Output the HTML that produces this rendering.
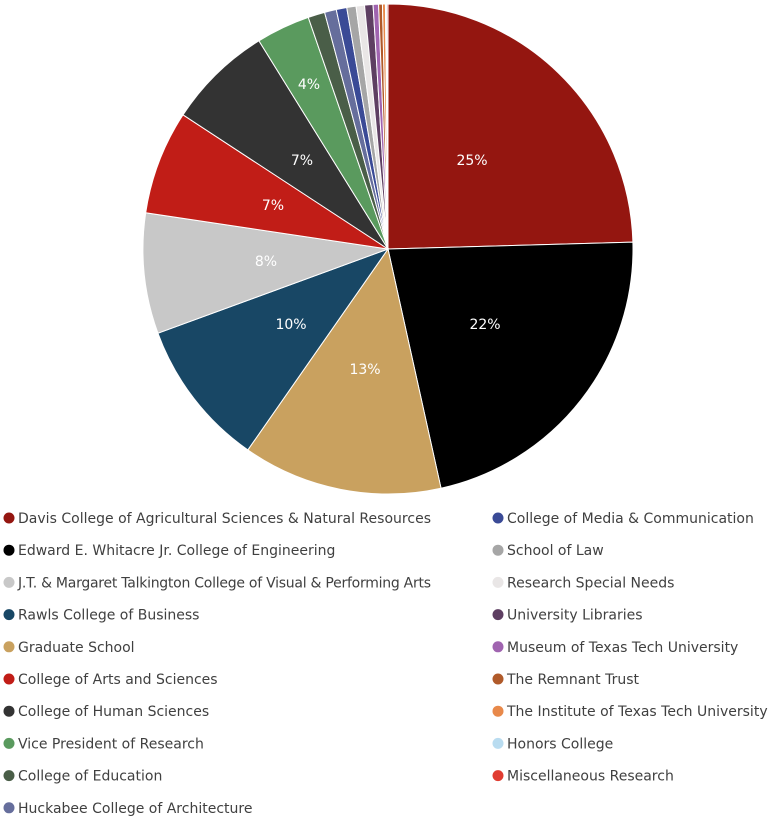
<!DOCTYPE html>
<html><head><meta charset="utf-8"><style>
body{margin:0;background:#fff;width:777px;height:823px;overflow:hidden}
svg text{font-family:"DejaVu Sans","Liberation Sans",sans-serif}
</style></head><body>
<svg id="s" width="777" height="823" xmlns="http://www.w3.org/2000/svg">
<g id="pie"></g>
<g fill="#fff" font-size="14" text-anchor="middle">
<text x="472" y="165">25%</text>
<text x="485" y="329">22%</text>
<text x="365" y="374">13%</text>
<text x="291" y="329">10%</text>
<text x="266" y="266">8%</text>
<text x="273" y="210">7%</text>
<text x="302" y="165">7%</text>
<text x="309" y="89">4%</text>
</g>
<g id="leg" font-size="14" fill="#404040"></g>
</svg>
<script>
var cx=388,cy=249,r=245;
var sl=[[0,88.4,"#941610"],[88.4,167.5,"#000000"],[167.5,214.9,"#c9a15f"],[214.9,249.9,"#184765"],[249.9,278.5,"#c8c8c8"],[278.5,303.2,"#c11d17"],[303.2,328.2,"#333333"],[328.2,341,"#5a9a5e"]];
var small=[[4,"#4a5e48"],[2.8,"#666e9c"],[2.5,"#3a4a96"],[2.2,"#a6a6a6"],[2,"#e9e6e6"],[2,"#5e3f62"],[1.3,"#a064b0"],[0.9,"#b05a2a"],[0.7,"#e8894a"],[0.3,"#b9dcf0"],[0.3,"#e03c31"]];
var a=341;small.forEach(function(s){sl.push([a,a+s[0],s[1]]);a+=s[0];});
function pt(d){var t=d*Math.PI/180;return (cx+r*Math.sin(t)).toFixed(2)+","+(cy-r*Math.cos(t)).toFixed(2);}
var h="";sl.forEach(function(s){h+='<path d="M'+cx+','+cy+' L'+pt(s[0])+' A'+r+','+r+' 0 '+((s[1]-s[0])>180?1:0)+' 1 '+pt(s[1])+' Z" fill="'+s[2]+'" stroke="#fff" stroke-width="1"/>';});
document.getElementById("pie").innerHTML=h;
var L=[["Davis College of Agricultural Sciences & Natural Resources","#941610"],["Edward E. Whitacre Jr. College of Engineering","#000000"],["J.T. & Margaret Talkington College of Visual & Performing Arts","#c8c8c8"],["Rawls College of Business","#184765"],["Graduate School","#c9a15f"],["College of Arts and Sciences","#c11d17"],["College of Human Sciences","#333333"],["Vice President of Research","#5a9a5e"],["College of Education","#4a5e48"],["Huckabee College of Architecture","#666e9c"]];
var R=[["College of Media & Communication","#3a4a96"],["School of Law","#a6a6a6"],["Research Special Needs","#e9e6e6"],["University Libraries","#5e3f62"],["Museum of Texas Tech University","#a064b0"],["The Remnant Trust","#b05a2a"],["The Institute of Texas Tech University","#e8894a"],["Honors College","#b9dcf0"],["Miscellaneous Research","#e03c31"]];
var g="";
function esc(t){return t.replace(/&/g,"&amp;");}
L.forEach(function(e,i){var y=518+i*32.2;g+='<circle cx="9" cy="'+y+'" r="5.5" fill="'+e[1]+'"/><text x="18" y="'+(y+5)+'" textLength="'+(e[0].length>50?413:0)+'">'+esc(e[0])+'</text>';});
R.forEach(function(e,i){var y=518+i*32.2;g+='<circle cx="498" cy="'+y+'" r="5.5" fill="'+e[1]+'"/><text x="507" y="'+(y+5)+'">'+esc(e[0])+'</text>';});
document.getElementById("leg").innerHTML=g.replace(/ textLength="0"/g,"");
</script>
</body></html>
